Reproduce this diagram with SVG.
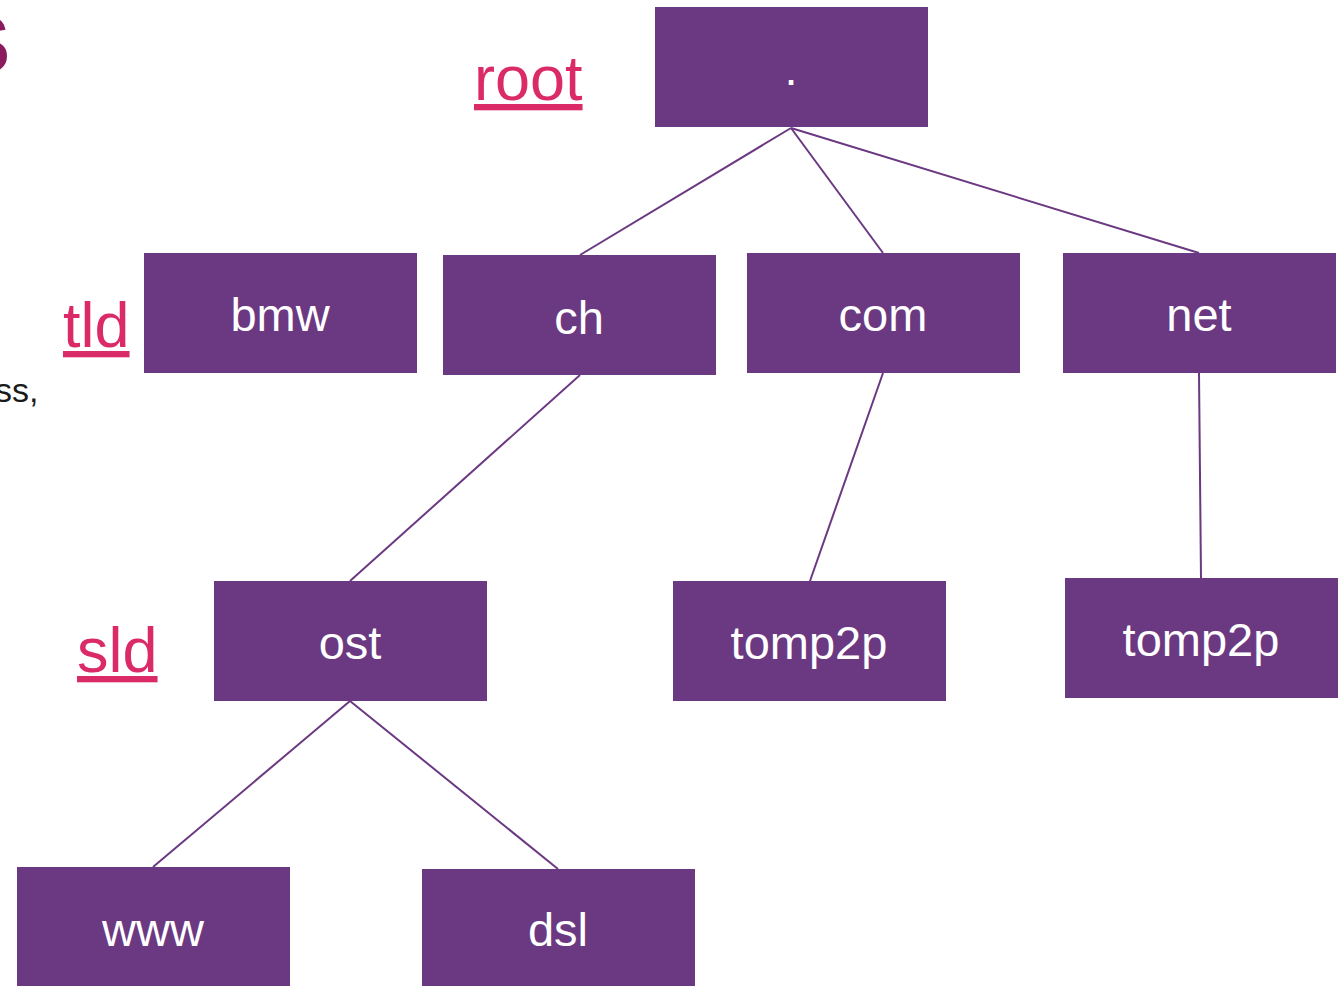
<svg xmlns="http://www.w3.org/2000/svg" width="1338" height="986" viewBox="0 0 1338 986">
<style>
.box{fill:#6B3882}
.nt{fill:#FFFFFF;font-family:"Liberation Sans",Arial,sans-serif;font-size:47px;text-anchor:middle}
.lbl{fill:#DB2A68;font-family:"Liberation Sans",Arial,sans-serif;font-size:63px;text-decoration:underline}
.edge{stroke:#6B3882;stroke-width:2;fill:none}
</style>
<rect width="1338" height="986" fill="#FFFFFF"/>
<text x="10" y="72" font-family="Liberation Sans, Arial, sans-serif" font-size="80" font-weight="bold" fill="#8C1A5E" text-anchor="end">S</text>
<text x="-5" y="402" font-family="Liberation Sans, Arial, sans-serif" font-size="34" fill="#1A1A1A">ss,</text>
<text class="lbl" x="474" y="100">root</text>
<text class="lbl" x="63" y="347">tld</text>
<text class="lbl" x="77" y="672">sld</text>
<g id="connectors">
<line class="edge" x1="791" y1="128" x2="580" y2="255"/>
<line class="edge" x1="791" y1="128" x2="883" y2="253"/>
<line class="edge" x1="791" y1="128" x2="1199" y2="253"/>
<line class="edge" x1="580" y1="375" x2="350" y2="581"/>
<line class="edge" x1="883" y1="373" x2="810" y2="581"/>
<line class="edge" x1="1199" y1="373" x2="1201" y2="578"/>
<line class="edge" x1="350" y1="701" x2="153" y2="867"/>
<line class="edge" x1="350" y1="701" x2="558" y2="869"/>
</g>
<g id="root"><rect class="box" x="655" y="7" width="273" height="120"/><text class="nt" x="791" y="85">.</text></g>
<g id="bmw"><rect class="box" x="144" y="253" width="273" height="120"/><text class="nt" x="280" y="331">bmw</text></g>
<g id="ch"><rect class="box" x="443" y="255" width="273" height="120"/><text class="nt" x="579" y="334">ch</text></g>
<g id="com"><rect class="box" x="747" y="253" width="273" height="120"/><text class="nt" x="883" y="331">com</text></g>
<g id="net"><rect class="box" x="1063" y="253" width="273" height="120"/><text class="nt" x="1199" y="331">net</text></g>
<g id="ost"><rect class="box" x="214" y="581" width="273" height="120"/><text class="nt" x="350" y="659">ost</text></g>
<g id="tomp2p-com"><rect class="box" x="673" y="581" width="273" height="120"/><text class="nt" x="809" y="659">tomp2p</text></g>
<g id="tomp2p-net"><rect class="box" x="1065" y="578" width="273" height="120"/><text class="nt" x="1201" y="656">tomp2p</text></g>
<g id="www"><rect class="box" x="17" y="867" width="273" height="119"/><text class="nt" x="153" y="946">www</text></g>
<g id="dsl"><rect class="box" x="422" y="869" width="273" height="117"/><text class="nt" x="558" y="946">dsl</text></g>
</svg>
